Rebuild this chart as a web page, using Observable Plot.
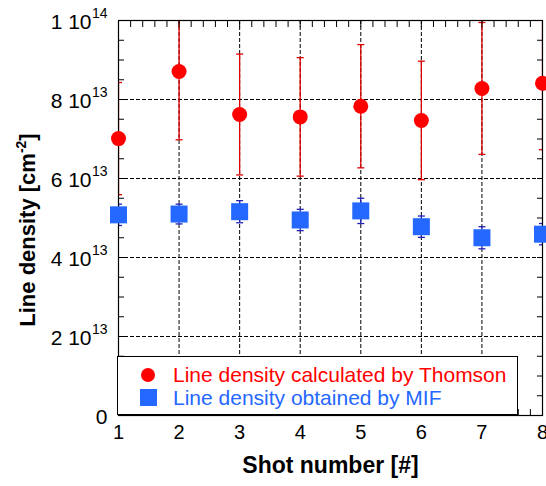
<!DOCTYPE html>
<html>
<head>
<meta charset="utf-8">
<script src="https://cdn.jsdelivr.net/npm/d3@7"></script>
<script src="https://cdn.jsdelivr.net/npm/@observablehq/plot@0.6"></script>
<style>
  body { margin: 0; background: white; }
  #wrap { position: relative; width: 546px; height: 486px; font-family: "Liberation Sans", Arial, sans-serif; }
  #legend { position: absolute; left: 117px; top: 356px; width: 401px; height: 59px; box-sizing: border-box;
            border: 1px solid black; background: white; }
  .lg-item { position: absolute; left: 0; font-size: 21px; white-space: nowrap; }
  .lg-mark { position: absolute; }
</style>
</head>
<body>
<div id="wrap"></div>
<script>
// ---- data ----
const shots = [1, 2, 3, 4, 5, 6, 7, 8];
const thomson = [7.01e13, 8.71e13, 7.62e13, 7.56e13, 7.83e13, 7.47e13, 8.28e13, 8.41e13];
const thomsonErr = [1.42e13, 1.73e13, 1.53e13, 1.50e13, 1.56e13, 1.50e13, 1.67e13, 1.68e13];
const mif = [5.08e13, 5.10e13, 5.16e13, 4.95e13, 5.18e13, 4.78e13, 4.50e13, 4.59e13];
const mifErr = [0.27e13, 0.25e13, 0.28e13, 0.27e13, 0.32e13, 0.27e13, 0.28e13, 0.27e13];

const seriesNames = ["Line density calculated by Thomson", "Line density obtained by MIF"];
const seriesColors = ["#ff0000", "#2468ff"];

const yTicks = [0, 2e13, 4e13, 6e13, 8e13, 1e14];
const yMantissa = ["0", "2 10", "4 10", "6 10", "8 10", "1 10"];
const yExponent = ["", "13", "13", "13", "13", "14"];
const yGrid = [2e13, 4e13, 6e13, 8e13];
const xGrid = [2, 3, 4, 5, 6, 7];
const xTickLabels = ["1", "2", "3", "4", "5", "6", "7", "8"];
const yMinor = d3.range(0, 1e14 + 1, 0.5e13);
const xMinor = d3.range(1, 8.0001, 0.2);

const xLabel = "Shot number [#]";
const yLabel = "Line density [cm-2]";

// ---- tables ----
const tRows = shots.map((s, i) => ({shot: s, v: thomson[i], lo: thomson[i] - thomsonErr[i], hi: thomson[i] + thomsonErr[i]}));
const mRows = shots.map((s, i) => ({shot: s, v: mif[i], lo: mif[i] - mifErr[i], hi: mif[i] + mifErr[i]}));
const tCaps = tRows.flatMap(d => [{shot: d.shot, y: d.lo}, {shot: d.shot, y: d.hi}]);
const mCaps = mRows.flatMap(d => [{shot: d.shot, y: d.lo}, {shot: d.shot, y: d.hi}]);
const yTickRows = yTicks.map((v, i) => ({v, m: yMantissa[i], e: yExponent[i]}));

const capSymbol = {draw(ctx, size) { const w = Math.sqrt(size / Math.PI); ctx.moveTo(-w, 0); ctx.lineTo(w, 0); }};
const font = "Liberation Sans, Arial, sans-serif";

const chart = Plot.plot({
  width: 546, height: 486,
  marginLeft: 118, marginRight: 4, marginTop: 20, marginBottom: 71,
  x: {domain: [1, 8], axis: null},
  y: {domain: [0, 1e14], axis: null},
  style: {fontFamily: font, background: "white", color: "black"},
  marks: [
    Plot.gridX(xGrid, {stroke: "black", strokeOpacity: 1, strokeDasharray: "4,2"}),
    Plot.gridY(yGrid, {stroke: "black", strokeOpacity: 1, strokeDasharray: "4,2"}),
    Plot.ruleX(tRows, {x: "shot", y1: "lo", y2: "hi", stroke: "#e00000", strokeWidth: 1.3, clip: true}),
    Plot.dot(tCaps, {x: "shot", y: "y", symbol: capSymbol, r: 3.5, stroke: "#e00000", strokeWidth: 1.3, fill: "none", clip: true}),
    Plot.ruleX(mRows, {x: "shot", y1: "lo", y2: "hi", stroke: "#2222b8", strokeWidth: 1.3, clip: true}),
    Plot.dot(mCaps, {x: "shot", y: "y", symbol: capSymbol, r: 3.5, stroke: "#2222b8", strokeWidth: 1.3, fill: "none", clip: true}),
    Plot.frame({stroke: "black", strokeWidth: 1.2}),
    Plot.axisY(yMinor, {anchor: "left", tickSize: -6, tickFormat: () => "", label: null}),
    Plot.axisY(yMinor, {anchor: "right", tickSize: -6, tickFormat: () => "", label: null}),
    Plot.axisX(xMinor, {anchor: "top", tickSize: -6, tickFormat: () => "", label: null}),
    Plot.axisX(xMinor, {anchor: "bottom", tickSize: -6, tickFormat: () => "", label: null}),
    // y tick labels
    Plot.text(yTickRows, {filter: d => d.e !== "", y: "v", text: "m", frameAnchor: "left", textAnchor: "end", dx: -27, dy: 1.5, fontSize: 21, fill: "black"}),
    Plot.text(yTickRows, {filter: d => d.e !== "", y: "v", text: "e", frameAnchor: "left", textAnchor: "end", dx: -11, dy: -7, fontSize: 14, fill: "black"}),
    Plot.text(yTickRows, {filter: d => d.e === "", y: "v", text: "m", frameAnchor: "left", textAnchor: "end", dx: -11, dy: 1.5, fontSize: 21, fill: "black"}),
    // x tick labels
    Plot.text(shots, {x: d => d, text: (d, i) => xTickLabels[i], frameAnchor: "bottom", dy: 23, fontSize: 20, fill: "black"}),
    // axis titles
    Plot.text([xLabel], {text: d => d, frameAnchor: "bottom", dy: 57, fontSize: 23, fontWeight: "bold", fill: "black"}),
    Plot.text([yLabel], {text: d => d, frameAnchor: "left", textAnchor: "middle", rotate: -90, dx: -91, dy: 12, fontSize: 22, fontWeight: "bold", fill: "black"}),
    // data points
    Plot.dot(tRows, {x: "shot", y: "v", r: 7.5, fill: seriesColors[0]}),
    Plot.dot(mRows, {x: "shot", y: "v", symbol: "square", r: 9.6, fill: seriesColors[1]})
  ]
});

// superscript in y title
d3.select(chart).selectAll("text").each(function () {
  if (this.textContent === yLabel) {
    const t = d3.select(this);
    t.text(null);
    t.append("tspan").text("Line density [cm");
    t.append("tspan").attr("dy", "-9").attr("font-size", "14").text("-2");
    t.append("tspan").attr("dy", "9").text("]");
  }
});

const wrap = document.getElementById("wrap");
wrap.appendChild(chart);

// legend (overlay inside the plot area)
const legend = document.createElement("div");
legend.id = "legend";
const markDefs = [
  {left: 23, top: 11, w: 14, h: 14, radius: "50%"},
  {left: 22, top: 32, w: 17, h: 17, radius: "0"}
];
const textTops = [6, 29];
seriesNames.forEach((name, i) => {
  const m = document.createElement("div");
  m.className = "lg-mark";
  Object.assign(m.style, {left: markDefs[i].left + "px", top: markDefs[i].top + "px", width: markDefs[i].w + "px",
    height: markDefs[i].h + "px", borderRadius: markDefs[i].radius, background: seriesColors[i]});
  legend.appendChild(m);
  const t = document.createElement("div");
  t.className = "lg-item";
  t.style.left = "55px";
  t.style.top = textTops[i] + "px";
  t.style.color = seriesColors[i];
  t.textContent = name;
  legend.appendChild(t);
});
wrap.appendChild(legend);
</script>
</body>
</html>
